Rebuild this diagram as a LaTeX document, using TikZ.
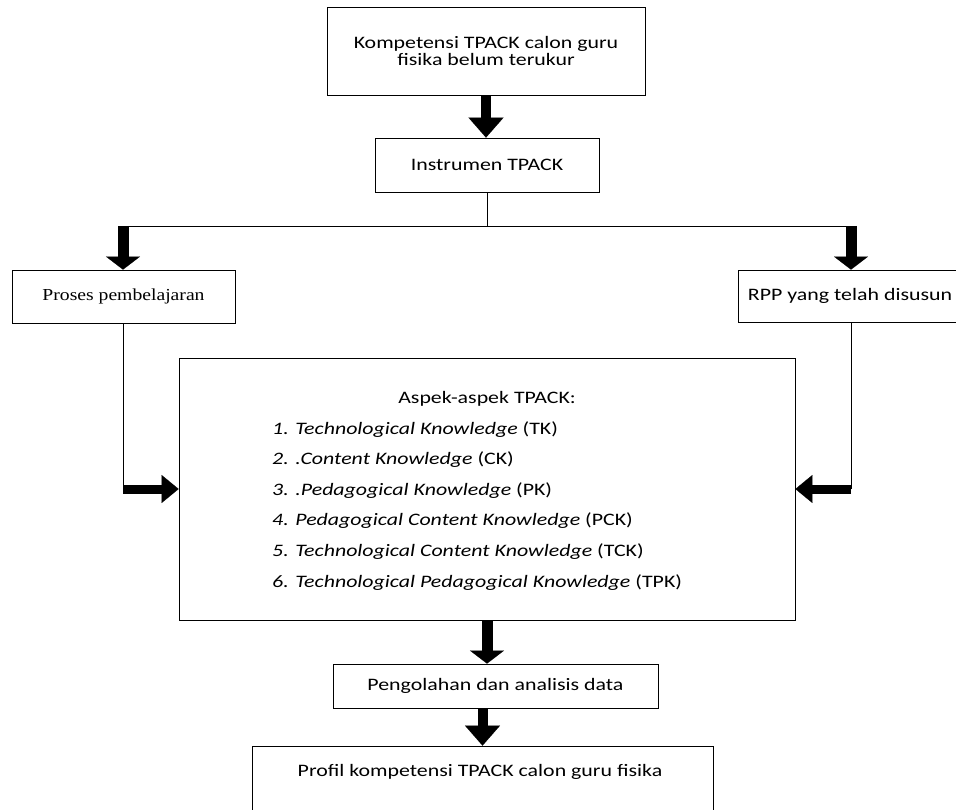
\documentclass[tikz,border=0pt]{standalone}
\usepackage{fontspec}
\setmainfont{Carlito}[FakeStretch=1.25]
\newfontfamily\tnr{Liberation Serif}[FakeStretch=1.17]
\usetikzlibrary{arrows.meta}
\begin{document}
\begin{tikzpicture}[x=1pt,y=-1pt,
  box/.style={draw, line width=0.8pt, inner sep=0pt, font=\fontsize{17.5pt}{17pt}\selectfont, align=center},
  txt/.style={inner sep=0pt, font=\fontsize{17.5pt}{17pt}\selectfont},
  thinline/.style={line width=0.8pt},
  downbig/.style={line width=10pt, -{Triangle[width=35pt,length=20pt,line width=0.1pt]}},
  downsmall/.style={line width=11pt, -{Triangle[width=34pt,length=13pt,line width=0.1pt]}},
  sideways/.style={line width=9pt, -{Triangle[width=28pt,length=17pt,line width=0.1pt]}},
]
\useasboundingbox (0,0) rectangle (956,810);
\clip (0,0) rectangle (956,810);
\fill[white] (0,0) rectangle (956,810);
% boxes
\node[box, minimum width=318pt, minimum height=88pt] (kom) at (486,51) {Kompetensi TPACK calon guru\\fisika belum terukur};
\node[box, minimum width=224pt, minimum height=54pt] (instr) at (487,165) {Instrumen TPACK};
\node[box, minimum width=223pt, minimum height=53pt, font=\tnr\fontsize{16.8pt}{17pt}\selectfont] (proses) at (123.5,296.5) {Proses pembelajaran};
\node[box, minimum width=224pt, minimum height=52pt] (rpp) at (850,296) {RPP yang telah disusun};
\node[box, minimum width=616pt, minimum height=262pt] (aspek) at (487,489) {};
\node[box, minimum width=325pt, minimum height=44pt] (peng) at (495.5,686) {Pengolahan dan analisis data};
\node[box, minimum width=461pt, minimum height=100pt] (profil) at (482.5,796) {};
% texts
\node[txt] (profiltext) at (480,772) {Profil kompetensi TPACK calon guru fisika};
\node[txt, anchor=base] (head) at (487,403) {Aspek-aspek TPACK:};
\foreach \i/\t/\a in {1/Technological Knowledge/TK,
                      2/.Content Knowledge/CK,
                      3/.Pedagogical Knowledge/PK,
                      4/Pedagogical Content Knowledge/PCK,
                      5/Technological Content Knowledge/TCK,
                      6/Technological Pedagogical Knowledge/TPK}
  \node[txt, anchor=base west] (item\i) at (272,{434+30.6*(\i-1)}) {\textit{\i. \t} (\a)};
% connector coordinates
\coordinate (split) at (487,226);
\coordinate (L) at (123,226);
\coordinate (R) at (851,226);
\coordinate (pl) at (123,489);
\coordinate (pr) at (851,489);
% connectors
\draw[downbig] (kom.south) -- (kom.south |- instr.north);
\draw[thinline] (instr.south) -- (split);
\draw[thinline] (L) -- (R);
\draw[downsmall] (L) -- (L |- proses.north);
\draw[downsmall] (R) -- (R |- rpp.north);
\draw[thinline] (proses.south -| L) -- (pl);
\draw[sideways] (pl) -- (aspek.west);
\draw[thinline] (rpp.south -| R) -- (pr);
\draw[sideways] (pr) -- (aspek.east);
\draw[downsmall] (aspek.south) -- (aspek.south |- peng.north);
\draw[downbig] (peng.south -| profil.north) -- (profil.north);
\end{tikzpicture}
\end{document}
